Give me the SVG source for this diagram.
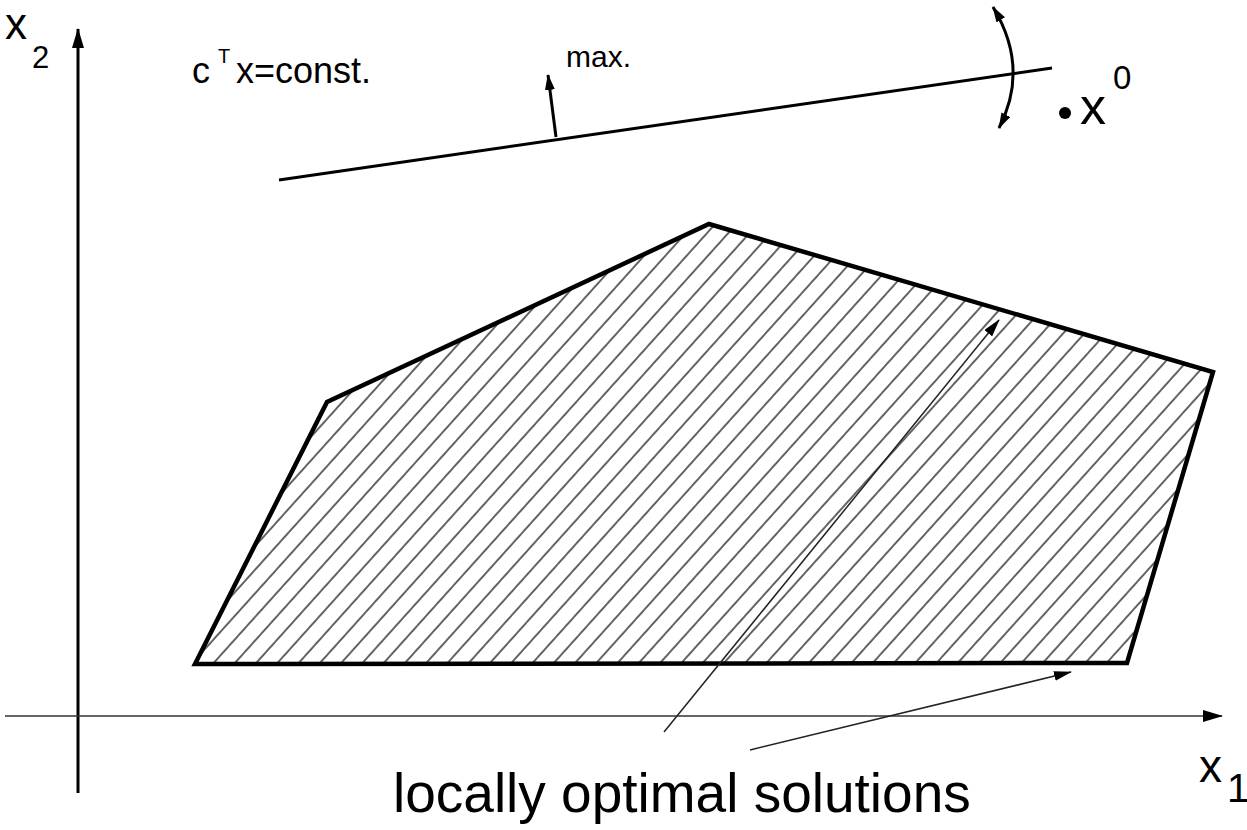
<svg xmlns="http://www.w3.org/2000/svg" width="1247" height="830" viewBox="0 0 1247 830">
<defs>
<style>
text{font-family:"Liberation Sans",Arial,sans-serif;fill:#000}
.thin{stroke:#222;stroke-width:1.5;fill:none}
</style>
<pattern id="hatch" patternUnits="userSpaceOnUse" width="15.8" height="40" patternTransform="rotate(42)">
<line x1="2" y1="-5" x2="2" y2="45" stroke="#111" stroke-width="1.3"/>
</pattern>
<marker id="ah" viewBox="0 0 16 10" refX="15" refY="5" markerWidth="16" markerHeight="10" markerUnits="userSpaceOnUse" orient="auto-start-reverse">
<path d="M0,0 L16,5 L0,10 Z" fill="#000"/>
</marker>
<marker id="ahs" viewBox="0 0 18 10" refX="17" refY="5" markerWidth="18" markerHeight="10" markerUnits="userSpaceOnUse" orient="auto">
<path d="M0,0 L18,5 L0,10 Z" fill="#000"/>
</marker>
<marker id="ahb" viewBox="0 0 20 12" refX="19" refY="6" markerWidth="20" markerHeight="12" markerUnits="userSpaceOnUse" orient="auto">
<path d="M0,0 L20,6 L0,12 Z" fill="#000"/>
</marker>
</defs>
<rect width="1247" height="830" fill="#fff"/>
<g id="feasible-region">
<polygon points="195,664 327,402 709,224 1213,372 1127,663" fill="url(#hatch)" stroke="#000" stroke-width="4.5" stroke-linejoin="miter"/>
</g>
<g id="axes">
<line x1="78" y1="793" x2="78" y2="29" stroke="#000" stroke-width="3" marker-end="url(#ahb)"/>
<line x1="5" y1="716" x2="1222" y2="716" stroke="#333" stroke-width="1.5" marker-end="url(#ahb)"/>
<text x="5" y="39" font-size="44">x</text>
<text x="32" y="68" font-size="31">2</text>
<text x="1199" y="782" font-size="46">x</text>
<text x="1227" y="802" font-size="40">1</text>
</g>
<g id="objective-line">
<line x1="279" y1="180" x2="1052" y2="68" stroke="#000" stroke-width="3"/>
<text x="192" y="83" font-size="36">c</text>
<text x="218" y="63" font-size="20">T</text>
<text x="236" y="83" font-size="36">x=const.</text>
<text x="566" y="67" font-size="30">max.</text>
</g>
<g id="x0">
<circle cx="1065" cy="113" r="6" fill="#000"/>
<text x="1080" y="124" font-size="52">x</text>
<text x="1113" y="89" font-size="33">0</text>
</g>
<g id="connectors">
<line x1="556" y1="137" x2="548" y2="75" stroke="#000" stroke-width="3" marker-end="url(#ah)"/>
<path d="M999,128 Q1030,68 993,7" stroke="#000" stroke-width="3" fill="none" marker-start="url(#ah)" marker-end="url(#ah)"/>
<line class="thin" x1="664" y1="732" x2="999" y2="320" marker-end="url(#ahs)"/>
<line class="thin" x1="750" y1="750" x2="1071" y2="672" marker-end="url(#ahs)"/>
</g>
<g id="label">
<text x="393" y="812" font-size="55">locally optimal solutions</text>
</g>
</svg>
